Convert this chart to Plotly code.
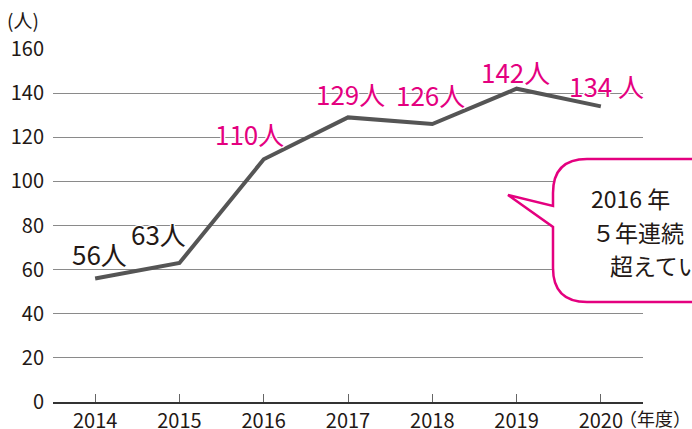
import plotly.graph_objects as go

years = ["2014", "2015", "2016", "2017", "2018", "2019", "2020"]
values = [56, 63, 110, 129, 126, 142, 134]
labels = ["56人", "63人", "110人", "129人", "126人", "142人", "134 人"]
label_colors = ["#231815", "#231815", "#e4007f", "#e4007f", "#e4007f", "#e4007f", "#e4007f"]
label_dx = [4, -21, -14, 2, -2, -1, 6]
label_dy = [25, 30, 26, 24, 30, 17, 21]
y_ticks = [0, 20, 40, 60, 80, 100, 120, 140, 160]
callout_lines = ["2016 年", "５年連続", "超えてい"]

FONT = "Noto Sans CJK JP"
MAGENTA = "#e4007f"
HALO = "1px 1px 0 #fff, -1px -1px 0 #fff, 1px -1px 0 #fff, -1px 1px 0 #fff"

fig = go.Figure()
fig.add_trace(go.Scatter(
    x=years, y=values, mode="lines",
    line=dict(color="#555555", width=4),
    hoverinfo="skip", showlegend=False,
))

W, H = 692, 429
L, R, T, B = 53, 49, 49, 27
pw, ph = W - L - R, H - T - B

def px(xp):
    return (xp - L) / pw

def py(yp):
    return (H - B - yp) / ph

annotations = []
for i, (v, t, c, dx, dy) in enumerate(zip(values, labels, label_colors, label_dx, label_dy)):
    annotations.append(dict(
        x=i, y=v, xref="x", yref="y", text=t, showarrow=False,
        xshift=dx, yshift=dy, xanchor="center", yanchor="middle",
        font=dict(family=FONT, size=26, color=c, shadow=HALO),
    ))

# axis titles
annotations.append(dict(x=px(5), y=py(20), xref="paper", yref="paper", text="(人)",
                        showarrow=False, xanchor="left", yanchor="middle",
                        font=dict(family=FONT, size=19, color="#231815")))
annotations.append(dict(x=px(617), y=py(418), xref="paper", yref="paper", text="（年度）",
                        showarrow=False, xanchor="left", yanchor="middle",
                        font=dict(family=FONT, size=18, color="#231815")))

# callout text
callout_pos = [(589, 198), (590, 232), (608, 265)]
for t, (xx, yy) in zip(callout_lines, callout_pos):
    annotations.append(dict(x=px(xx), y=py(yy), xref="paper", yref="paper", text=t,
                            showarrow=False, xanchor="left", yanchor="middle",
                            font=dict(family=FONT, size=23, color="#231815")))

# speech bubble path (paper coords)
left, right, top, bot, r = 553, 740, 159, 302, 34
path = (
    f"M {px(left)},{py(206)} L {px(left)},{py(top + r)} "
    f"Q {px(left)},{py(top)} {px(left + r)},{py(top)} "
    f"L {px(right)},{py(top)} L {px(right)},{py(bot)} L {px(left + r)},{py(bot)} "
    f"Q {px(left)},{py(bot)} {px(left)},{py(bot - r)} "
    f"L {px(left)},{py(227)} L {px(508)},{py(195)} Z"
)
shapes = [dict(type="path", xref="paper", yref="paper", path=path,
               line=dict(color=MAGENTA, width=2.5), fillcolor="#ffffff", layer="above")]

fig.update_layout(
    width=W, height=H,
    margin=dict(l=L, r=R, t=T, b=B, pad=0, autoexpand=False),
    paper_bgcolor="#ffffff", plot_bgcolor="#ffffff",
    font=dict(family=FONT, color="#231815"),
    showlegend=False,
    annotations=annotations,
    shapes=shapes,
    xaxis=dict(
        type="category", range=[-0.5, 6.5], automargin=False,
        showgrid=False, showline=True, linecolor="#333333", linewidth=1.5,
        ticks="inside", ticklen=8, tickcolor="#666666", tickwidth=1,
        tickfont=dict(family=FONT, size=20, color="#231815"),
        ticklabelstandoff=0, zeroline=False, fixedrange=True,
    ),
    yaxis=dict(
        range=[0, 160], tickvals=y_ticks, ticktext=[str(v) for v in y_ticks],
        automargin=False,
        showgrid=True, gridcolor="#8a8a8a", gridwidth=1.2,
        zeroline=False, showline=False, ticks="",
        tickfont=dict(family=FONT, size=20, color="#231815"),
        ticklabelstandoff=8, fixedrange=True,
    ),
)

fig.write_html("out.html")
